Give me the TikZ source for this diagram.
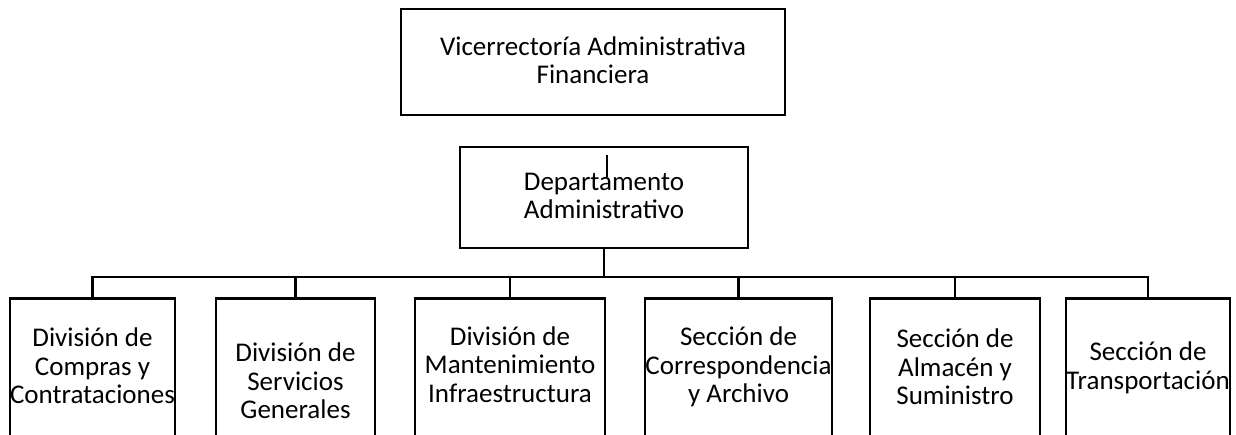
\documentclass[tikz,border=0pt]{standalone}
\usepackage{fontspec}
\setmainfont{Carlito}
\usetikzlibrary{positioning}

\begin{document}
\begin{tikzpicture}[x=1pt, y=-1pt,
    every node/.style={font=\fontsize{27}{28.5}\selectfont, inner sep=0pt},
    caja/.style={draw, line width=2.6pt, minimum height=160},
    texto/.style={align=center},
    enlace/.style={line width=2.6pt}]
  \useasboundingbox (0,0) rectangle (1236,434);
  \clip (0,0) rectangle (1236,434);
  % niveles superiores
  \node[caja, minimum width=384, minimum height=106] (vaf) at (593,62) {};
  \node[texto] (vaft) at (593,60) {Vicerrectoría Administrativa\\Financiera};
  \node[caja, minimum width=288, minimum height=101] (dadm) at (604,197.5) {};
  \node[texto] (dadmt) at (604,196) {Departamento\\Administrativo};
  \coordinate (marca) at (607,155);
  \draw[line width=2pt] (marca) -- ++(0,22);
  % divisiones y secciones
  \node[caja, anchor=north, minimum width=165] (comp) at (92.5,297) {};
  \node[caja, anchor=north, minimum width=159] (serv) at (295.5,297) {};
  \node[caja, anchor=north, minimum width=190] (mant) at (510,297) {};
  \node[caja, anchor=north, minimum width=187] (corr) at (738.5,297) {};
  \node[caja, anchor=north, minimum width=170] (alm) at (955,297) {};
  \node[caja, anchor=north, minimum width=164] (trans) at (1148,297) {};
  \node[texto] (compt) at (92.5,366) {División de\\Compras y\\Contrataciones};
  \node[texto] (servt) at (295.5,381) {División de\\Servicios\\Generales};
  \node[texto] (mantt) at (510,364.5) {División de\\Mantenimiento\\Infraestructura};
  \node[texto] (corrt) at (738.5,367) {Sección de\\Correspondencia\\y Archivo};
  \node[texto] (almt) at (955,367) {Sección de\\Almacén y\\Suministro};
  \node[texto] (transt) at (1148,368) {Sección de\\Transportación};
  % lineas
  \coordinate (bus) at (604,277);
  \draw[enlace] (dadm) -- (bus);
  \foreach \n in {comp,serv,mant,corr,alm,trans}
    \draw[enlace] (bus) -| (\n.north);
\end{tikzpicture}
\end{document}
